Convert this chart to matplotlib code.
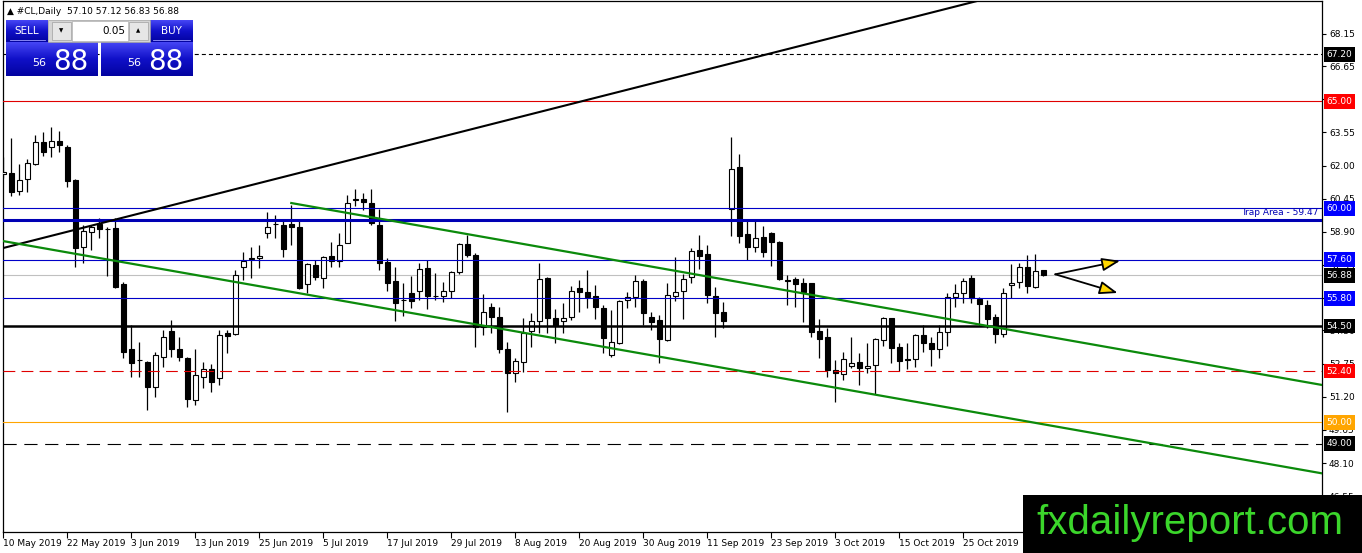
import numpy as np
import pandas as pd
import matplotlib
matplotlib.use("Agg")
import matplotlib.pyplot as plt
from matplotlib.colors import LinearSegmentedColormap
from matplotlib.patches import Rectangle

plt.rcParams["lines.scale_dashes"] = False
plt.rcParams["font.family"] = ["DejaVu Sans"]

# ---------------- data ----------------
symbol = "#CL,Daily"
info_ohlc = ["57.10", "57.12", "56.83", "56.88"]
dates = pd.bdate_range("2019-05-10", periods=131)

opens = [61.61, 61.65, 60.81, 61.38, 62.07, 63.10, 62.87, 63.15, 62.87, 61.33,
         58.20, 58.90, 59.27, 59.04, 59.08, 56.47, 53.43, 52.92, 52.83, 51.66,
         53.05, 54.27, 53.43, 53.01, 51.05, 52.12, 52.50, 52.08, 54.18, 54.13,
         57.26, 57.64, 57.68, 58.85, 59.25, 59.22, 59.27, 59.13, 56.47, 57.36,
         56.75, 57.78, 57.54, 58.38, 60.39, 60.44, 60.25, 59.22, 57.49, 56.61,
         55.70, 56.05, 56.14, 57.22, 55.93, 55.91, 56.14, 57.03, 58.34, 57.82,
         54.46, 55.39, 54.93, 53.43, 52.31, 52.82, 54.27, 54.74, 56.75, 54.88,
         54.74, 54.93, 56.28, 56.09, 55.91, 55.35, 53.15, 53.71, 55.72, 55.86,
         56.61, 54.93, 54.79, 53.85, 55.91, 56.14, 56.79, 58.06, 57.87, 55.91,
         55.16, 59.97, 61.93, 58.80, 58.20, 58.66, 58.85, 58.43, 56.67, 56.70,
         56.51, 56.51, 54.27, 53.99, 52.45, 52.26, 52.64, 52.82, 52.54, 52.68,
         53.85, 54.88, 53.52, 52.96, 52.96, 54.08, 53.71, 53.43, 54.22, 55.86,
         56.05, 56.75, 55.77, 55.49, 54.93, 54.13, 56.42, 56.56, 57.26, 56.33,
         57.10]
highs = [62.40, 63.29, 62.07, 62.31, 63.43, 63.57, 63.80, 63.62, 62.96, 61.35,
         59.22, 59.22, 59.55, 59.13, 59.55, 56.56, 54.55, 53.76, 52.85, 53.29,
         54.32, 54.79, 53.99, 53.05, 53.43, 52.82, 52.73, 54.32, 54.32, 57.12,
         57.96, 58.20, 58.29, 59.83, 59.69, 59.46, 60.16, 59.46, 57.45, 57.59,
         57.78, 58.43, 58.85, 60.63, 60.91, 60.72, 60.91, 59.97, 57.68, 57.26,
         56.51, 56.84, 57.45, 57.59, 56.98, 56.56, 57.08, 58.38, 58.76, 57.92,
         56.00, 55.58, 55.39, 53.76, 53.01, 54.88, 55.11, 57.45, 56.79, 55.30,
         55.58, 56.37, 56.65, 57.12, 56.42, 55.49, 55.25, 55.72, 56.09, 56.89,
         56.70, 55.16, 55.02, 56.51, 57.73, 56.94, 58.15, 58.76, 58.29, 56.33,
         55.63, 63.34, 62.54, 59.46, 59.46, 59.18, 58.90, 58.48, 56.89, 56.79,
         56.75, 56.53, 54.83, 54.41, 52.92, 53.29, 53.99, 53.24, 53.71, 53.94,
         54.93, 54.90, 53.71, 53.71, 54.13, 54.55, 53.99, 54.55, 56.05, 56.47,
         56.75, 56.89, 55.86, 55.72, 55.07, 56.28, 57.40, 57.45, 57.82, 57.87,
         57.12]
lows = [61.42, 60.58, 60.63, 60.77, 62.03, 62.45, 62.40, 62.64, 61.00, 57.26,
        57.45, 58.06, 58.62, 56.84, 56.30, 53.01, 52.12, 52.12, 50.58, 51.19,
        52.59, 53.05, 52.87, 50.72, 50.81, 51.61, 51.42, 51.75, 53.24, 54.08,
        56.65, 56.75, 57.22, 58.62, 58.62, 57.73, 58.29, 56.23, 56.05, 56.65,
        56.28, 57.26, 57.26, 58.36, 60.11, 59.93, 59.22, 57.12, 56.14, 54.74,
        54.97, 55.35, 55.72, 55.30, 55.72, 55.63, 55.81, 56.94, 57.73, 53.52,
        54.08, 54.18, 53.24, 50.49, 51.89, 52.36, 53.52, 54.18, 54.18, 53.71,
        54.18, 54.79, 55.16, 55.35, 54.83, 53.24, 53.05, 53.66, 55.35, 55.39,
        54.55, 54.32, 52.78, 53.80, 55.67, 54.83, 56.51, 57.17, 55.58, 53.99,
        54.41, 58.71, 58.38, 57.59, 57.96, 57.73, 57.31, 56.65, 55.49, 55.39,
        54.69, 53.99, 53.01, 52.12, 50.95, 51.98, 52.54, 51.75, 52.31, 51.33,
        53.57, 52.78, 52.40, 52.50, 52.59, 53.29, 52.64, 53.01, 53.57, 55.39,
        55.58, 55.58, 54.51, 54.41, 53.71, 53.99, 55.81, 56.28, 56.05, 56.28,
        56.83]
closes = [61.70, 60.77, 61.33, 62.12, 63.10, 62.64, 63.15, 62.96, 61.28, 58.15,
          58.94, 59.13, 59.04, 59.02, 56.33, 53.29, 52.78, 52.90, 51.66, 53.15,
          53.99, 53.43, 53.05, 51.09, 52.22, 52.50, 51.89, 54.08, 54.04, 56.89,
          57.54, 57.68, 57.78, 59.13, 59.29, 58.10, 59.13, 56.28, 57.40, 56.79,
          57.73, 57.54, 58.29, 60.25, 60.41, 60.30, 59.32, 57.45, 56.51, 55.58,
          55.74, 55.67, 57.17, 55.91, 55.89, 56.14, 57.03, 58.34, 57.82, 54.46,
          55.16, 54.93, 53.43, 52.31, 52.87, 54.18, 54.74, 56.70, 54.88, 54.51,
          54.88, 56.14, 56.09, 55.86, 55.39, 53.94, 53.76, 55.67, 55.86, 56.61,
          55.11, 54.69, 53.90, 55.96, 56.09, 56.70, 58.01, 57.78, 55.96, 55.11,
          54.74, 61.84, 58.71, 58.20, 58.62, 57.96, 58.43, 56.70, 56.63, 56.47,
          56.09, 54.23, 53.90, 52.45, 52.31, 52.96, 52.78, 52.54, 52.64, 53.90,
          54.88, 53.48, 52.87, 52.92, 54.08, 53.71, 53.43, 54.22, 55.86, 56.05,
          56.61, 55.81, 55.53, 54.83, 54.13, 56.05, 56.51, 57.26, 56.37, 57.08,
          56.88]

date_labels = ["10 May 2019", "22 May 2019", "3 Jun 2019", "13 Jun 2019", "25 Jun 2019",
               "5 Jul 2019", "17 Jul 2019", "29 Jul 2019", "8 Aug 2019", "20 Aug 2019",
               "30 Aug 2019", "11 Sep 2019", "23 Sep 2019", "3 Oct 2019", "15 Oct 2019",
               "25 Oct 2019", "6 Nov 2019"]
price_ticks = [68.15, 66.65, 65.10, 63.55, 62.00, 60.45, 58.90, 57.35, 55.80,
               54.30, 52.75, 51.20, 49.65, 48.10, 46.55]

# horizontal levels: value, line colour, width, dash, tag colour
levels = [67.20, 65.00, 60.00, 59.47, 57.60, 56.88, 55.80, 54.50, 52.40, 50.00, 49.00]
level_colors = ["black", "#e00000", "#0000c8", "#0000b4", "#0000c8", "#c0c0c0",
                "#0000c8", "black", "#e00000", "#ffa500", "black"]
level_widths = [0.8, 0.8, 0.8, 2.2, 0.8, 0.8, 0.8, 1.8, 0.8, 0.8, 0.8]
level_dashes = [(0, (2.9, 2.2)), "-", "-", "-", "-", "-", "-", "-",
                (0, (8.5, 4.5)), "-", (0, (9.5, 5.5))]
level_tags = ["black", "#ff0000", "#0000ff", None, "#0000ff", "black",
              "#0000ff", "black", "#ff0000", "#ffa500", "black"]
trap_label = "Trap Area - 59.47"

black_trend_x, black_trend_y = [0, 125], [58.15, 70.00]
chan_upper_x, chan_upper_y = [36, 164.84], [60.25, 51.75]
chan_lower_x, chan_lower_y = [-5, 164.84], [58.80, 47.62]

arrow_apex = (131.5, 56.92)
arrow_tips = [(139.6, 57.55), (139.3, 56.05)]

# ---------------- figure ----------------
W, H = 1362, 553
fig = plt.figure(figsize=(W / 100, H / 100), dpi=100)
fig.patch.set_facecolor("white")
ax = fig.add_axes([2.7 / W, (H - 532) / H, (1322 - 2.7) / W, (532 - 1) / H])
ax.set_xlim(-0.075, 164.84)
ax.set_ylim(44.88, 69.69)

x = np.arange(len(opens))
o = np.array(opens); c = np.array(closes)
hi = np.array(highs); lo = np.array(lows)
up = c >= o

ax.vlines(x, lo, hi, color="black", lw=0.9, zorder=3)
body_h = np.maximum(np.abs(c - o), 0.03)
ax.bar(x, body_h, bottom=np.minimum(o, c), width=0.62,
       color=np.where(up, "white", "black"), edgecolor="black", linewidth=0.8, zorder=4)

for lv, col, lw, ls, tag in zip(levels, level_colors, level_widths, level_dashes, level_tags):
    z = 2 if col == "#c0c0c0" else 5
    ax.axhline(lv, color=col, lw=lw, linestyle=ls, zorder=z)
    if tag is not None:
        ax.annotate(f"{lv:.2f}", xy=(1.0, lv), xycoords=ax.get_yaxis_transform(),
                    xytext=(3.2, 0), textcoords="offset points",
                    ha="left", va="center", color="white", fontsize=6.5, zorder=10,
                    annotation_clip=False,
                    bbox=dict(boxstyle="square,pad=0.32", fc=tag, ec="none"))

ax.annotate(trap_label, xy=(164.6, 59.47), xytext=(-1, 2), textcoords="offset points",
            ha="right", va="bottom", color="#0000b4", fontsize=6.5, zorder=6)

ax.plot(black_trend_x, black_trend_y, color="black", lw=1.5, zorder=5)
ax.plot(chan_upper_x, chan_upper_y, color="#0b8a0b", lw=1.6, zorder=5)
ax.plot(chan_lower_x, chan_lower_y, color="#0b8a0b", lw=1.6, zorder=5)

for tip in arrow_tips:
    ax.annotate("", xy=tip, xytext=arrow_apex,
                arrowprops=dict(arrowstyle="-|>,head_length=1.1,head_width=0.4",
                                fc="#ffd700", ec="black", lw=1.3, shrinkA=0, shrinkB=0),
                zorder=7)

# axes styling
for s in ax.spines.values():
    s.set_color("black"); s.set_linewidth(0.9)
ax.yaxis.tick_right()
ax.set_yticks(price_ticks)
ax.set_yticklabels([f"{t:.2f}" for t in price_ticks])
ax.tick_params(axis="y", length=3, width=0.8, pad=2, labelsize=6.5, direction="out")
xpos = [dates.get_loc(pd.Timestamp(lbl)) for lbl in date_labels]
ax.set_xticks(xpos)
ax.set_xticklabels(date_labels)
for t in ax.get_xticklabels():
    t.set_horizontalalignment("left")
ax.tick_params(axis="x", length=4, width=0.8, pad=1.0, labelsize=6.5, direction="out")

# ---------------- overlay: header, trade panel, logo ----------------
ov = fig.add_axes([0, 0, 1, 1], zorder=20)
ov.patch.set_alpha(0)
ov.axis("off")

ov.text(7, 11, "\u25b2 " + symbol + "  " + " ".join(info_ohlc), fontsize=6.5,
        va="center", ha="left", color="black")

blue = LinearSegmentedColormap.from_list("b", ["#4646f5", "#1010c8", "#0303a0"])
grad = np.linspace(0, 1, 64).reshape(-1, 1)
for (x0, x1, y0, y1) in [(6, 48, 20, 42), (150, 193, 20, 42), (6, 98, 42, 76), (101, 193, 42, 76)]:
    ov.imshow(grad, extent=(x0, x1, y1, y0), cmap=blue, aspect="auto", zorder=1,
              interpolation="bilinear")
ov.add_patch(Rectangle((48, 20), 102, 22, fc="#d4d4d4", ec="#a0a0a0", lw=0.5, zorder=1))
ov.add_patch(Rectangle((72, 21), 56, 20, fc="white", ec="#b0b0b0", lw=0.5, zorder=2))
ov.add_patch(Rectangle((52, 22), 19, 18, fc="#e6e6e6", ec="#a0a0a0", lw=0.5, zorder=2))
ov.add_patch(Rectangle((129, 22), 19, 18, fc="#e6e6e6", ec="#a0a0a0", lw=0.5, zorder=2))
ov.plot([10, 45], [40, 40], color="#9a9aff", lw=0.6, zorder=3)
ov.plot([153, 190], [40, 40], color="#9a9aff", lw=0.6, zorder=3)
ov.text(27, 31, "SELL", color="white", fontsize=7.5, ha="center", va="center", zorder=3)
ov.text(171, 31, "BUY", color="white", fontsize=7.5, ha="center", va="center", zorder=3)
ov.text(125, 31, "0.05", color="black", fontsize=7.5, ha="right", va="center", zorder=3)
ov.text(61.5, 31, "\u25bc", color="black", fontsize=4, ha="center", va="center", zorder=3)
ov.text(138.5, 31, "\u25b2", color="black", fontsize=4, ha="center", va="center", zorder=3)
for bx in (6, 101):
    ov.text(bx + 40, 66, "56", color="white", fontsize=8, ha="right", va="baseline", zorder=3)
    ov.text(bx + 47, 70, "88", color="white", fontsize=20, ha="left", va="baseline", zorder=3)

ov.add_patch(Rectangle((1023, 495), 339, 58, fc="black", ec="none", zorder=5))
ov.text(1190, 523, "fxdailyreport.com", color="#3bd62b", fontsize=29,
        family=["Liberation Sans", "DejaVu Sans"], ha="center", va="center", zorder=6)

ov.set_xlim(0, W)
ov.set_ylim(H, 0)

fig.savefig("out.png", dpi=100)
